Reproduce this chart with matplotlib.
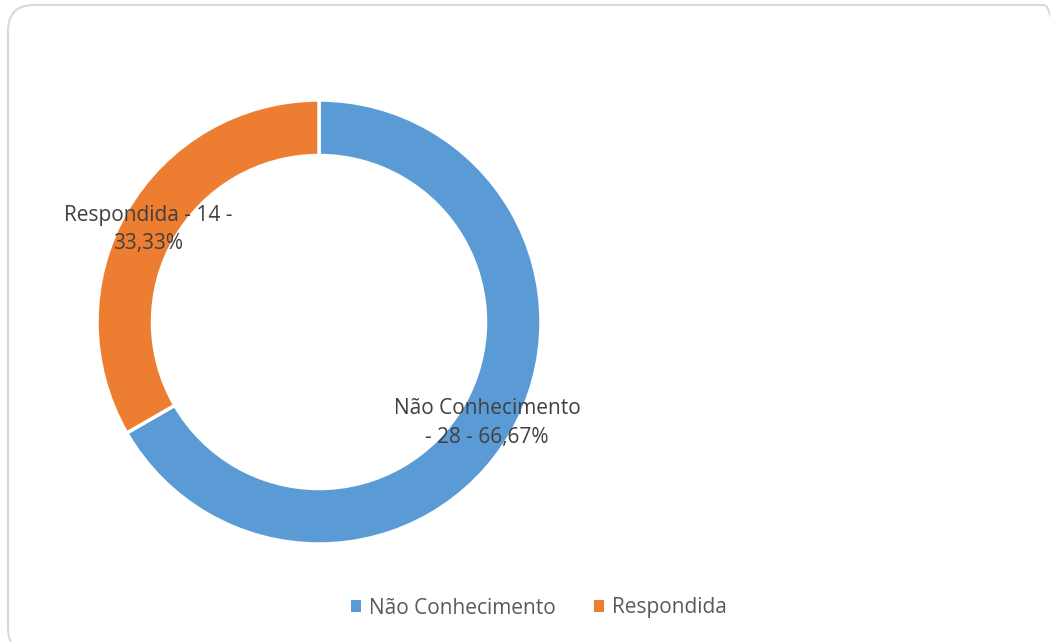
import matplotlib
matplotlib.use("Agg")
import matplotlib.pyplot as plt
from matplotlib.patches import FancyBboxPatch, Patch
from matplotlib.transforms import IdentityTransform

categories = ["Não Conhecimento", "Respondida"]
values = [28, 14]
percent_labels = ["66,67%", "33,33%"]
colors = ["#5B9BD5", "#ED7D31"]

plt.rcParams['font.family'] = ['Open Sans', 'DejaVu Sans']

fig = plt.figure(figsize=(10.5, 6.42), dpi=100)
W, H = 1050, 642

# border (pixel coordinates)
border = FancyBboxPatch((8, -12), 1062, 649,
                        boxstyle="round,pad=0,rounding_size=26",
                        transform=IdentityTransform(), facecolor="none",
                        edgecolor="#D9D9D9", linewidth=1.5, zorder=-1)
fig.patches.append(border)

cx, cy, r = 319, 322, 222
ax = fig.add_axes([(cx - r) / W, (H - cy - r) / H, 2 * r / W, 2 * r / H])
ax.pie(values, colors=colors, startangle=90, counterclock=False, radius=1,
       wedgeprops=dict(width=0.25, edgecolor="white", linewidth=2.5))
ax.set_xlim(-1, 1)
ax.set_ylim(-1, 1)
ax.set_aspect("equal")
ax.axis("off")

txtcolor = "#404040"
ax.text(0.757, -0.455, f"{categories[0]}\n- {values[0]} - {percent_labels[0]}",
        ha="center", va="center", fontsize=15, color=txtcolor, linespacing=1.45)
ax.text(-0.77, 0.418, f"{categories[1]} - {values[1]} -\n{percent_labels[1]}",
        ha="center", va="center", fontsize=15, color=txtcolor, linespacing=1.45)

handles = [Patch(facecolor=c, edgecolor="none") for c in colors]
fig.legend(handles, categories, loc="center", bbox_to_anchor=(539 / W, (H - 608) / H),
           ncol=2, frameon=False, fontsize=15, labelcolor="#595959",
           handlelength=0.5, handleheight=0.5, handletextpad=0.4, columnspacing=1.8)

fig.savefig("out.png", dpi=100)
